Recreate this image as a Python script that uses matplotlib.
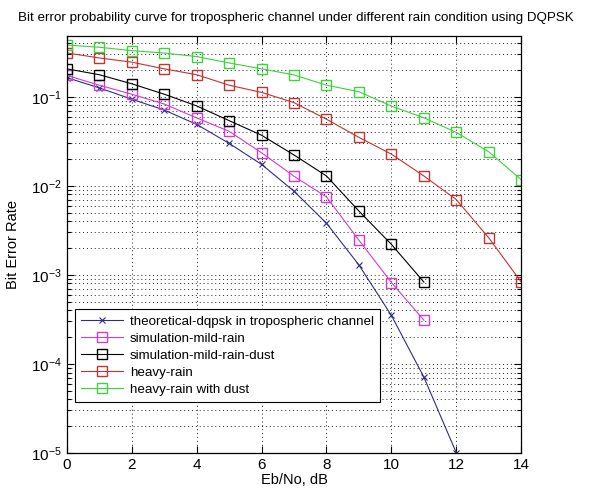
import numpy as np
import matplotlib
matplotlib.use("Agg")
import matplotlib.pyplot as plt
from matplotlib.ticker import LogLocator, NullFormatter

# Eb/No points (dB)
ebno = [0, 1, 2, 3, 4, 5, 6, 7, 8, 9, 10, 11, 12, 13, 14]

theory = [0.164, 0.126, 0.094, 0.071, 0.049, 0.030, 0.0174, 0.0087,
          0.0038, 0.00129, 3.5e-4, 7.1e-5, 1.0e-5]
mild_rain = [0.174, 0.135, 0.107, 0.083, 0.058, 0.041, 0.0235, 0.0128,
             0.0075, 0.00245, 8.2e-4, 3.1e-4]
mild_rain_dust = [0.206, 0.177, 0.140, 0.107, 0.079, 0.054, 0.037, 0.0222,
                  0.0129, 0.0052, 0.0022, 8.3e-4]
heavy_rain = [0.311, 0.273, 0.245, 0.206, 0.177, 0.135, 0.112, 0.086,
              0.056, 0.035, 0.0227, 0.0129, 0.0070, 0.0026, 8.3e-4]
heavy_rain_dust = [0.381, 0.360, 0.330, 0.310, 0.283, 0.240, 0.206, 0.176,
                   0.135, 0.114, 0.0787, 0.058, 0.0398, 0.0241, 0.0117]

labels = ["theoretical-dqpsk in tropospheric channel", "simulation-mild-rain",
          "simulation-mild-rain-dust", "heavy-rain", "heavy-rain with dust"]

plt.rcParams["font.family"] = ["Liberation Sans", "DejaVu Sans"]
plt.rcParams["mathtext.fontset"] = "custom"
plt.rcParams["mathtext.rm"] = "Liberation Sans"
plt.rcParams["mathtext.default"] = "regular"

fig = plt.figure(figsize=(5.91, 4.95), dpi=100)
ax = fig.add_axes([0.113, 0.085, 0.769, 0.842])

ms = 7.5
lw = 0.8
ax.semilogy(ebno[:len(theory)], theory, "-x", color="#2e2e8c", lw=lw, ms=4.5,
            mew=0.8, label=labels[0])
ax.semilogy(ebno[:len(mild_rain)], mild_rain, "-s", color="#d23cd2", lw=lw,
            ms=ms, mfc="none", mew=1.0, label=labels[1])
ax.semilogy(ebno[:len(mild_rain_dust)], mild_rain_dust, "-s", color="black",
            lw=lw, ms=ms, mfc="none", mew=1.0, label=labels[2])
ax.semilogy(ebno[:len(heavy_rain)], heavy_rain, "-s", color="#c23434", lw=lw,
            ms=ms, mfc="none", mew=1.0, label=labels[3])
ax.semilogy(ebno[:len(heavy_rain_dust)], heavy_rain_dust, "-s", color="#3ed23e",
            lw=lw, ms=ms, mfc="none", mew=1.0, label=labels[4])

ax.set_xlim(0, 14)
ax.set_ylim(1e-5, 0.48)
ax.set_xticks(np.arange(0, 15, 2))
ax.yaxis.set_major_locator(LogLocator(base=10, numticks=10))
ax.yaxis.set_minor_locator(LogLocator(base=10, subs=np.arange(2, 10), numticks=20))
ax.yaxis.set_minor_formatter(NullFormatter())

dots = (0, (1, 3))
ax.grid(True, which="major", ls=dots, color="#222222", lw=0.7)
ax.grid(True, which="minor", axis="y", ls=dots, color="#222222", lw=0.7)
ax.tick_params(which="both", direction="in", top=True, right=True,
               labelsize=11, width=0.8)
ax.tick_params(which="major", length=5)
ax.tick_params(which="minor", length=3)
for s in ax.spines.values():
    s.set_linewidth(0.9)

ax.set_xlabel("Eb/No, dB", fontsize=10.5, labelpad=1)
ax.set_ylabel("Bit Error Rate", fontsize=10.5, labelpad=8)
fig.suptitle("Bit error probability curve for tropospheric channel under "
             "different rain condition using DQPSK", fontsize=9.6, y=0.975)

leg = ax.legend(loc="lower left", bbox_to_anchor=(0.017, 0.122), fontsize=9.6,
                fancybox=False, framealpha=1, edgecolor="black",
                handlelength=3.2, borderpad=0.45, labelspacing=0.36,
                handletextpad=0.5, borderaxespad=0)
leg.get_frame().set_linewidth(0.8)

fig.savefig("out.png", dpi=100)
